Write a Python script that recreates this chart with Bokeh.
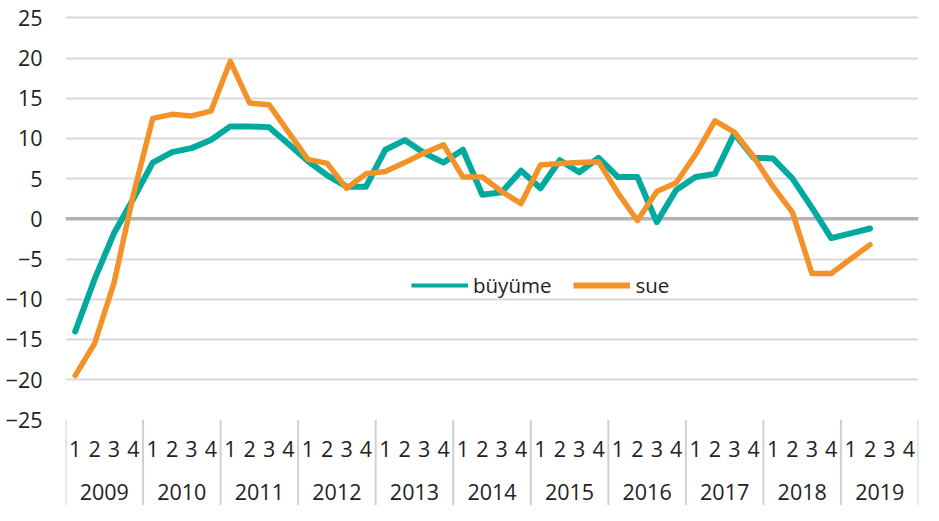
from bokeh.plotting import figure
from bokeh.models import (FactorRange, Range1d, FixedTicker, Span, Legend,
                          LegendItem, CategoricalAxis)
from bokeh.embed import file_html
from bokeh.resources import INLINE

# ---- data ----
years = ["2009", "2010", "2011", "2012", "2013", "2014",
         "2015", "2016", "2017", "2018", "2019"]
quarters = ["1", "2", "3", "4"]

buyume = [-14.0, -7.5, -1.8, 2.5, 7.0, 8.3, 8.8, 9.8, 11.5, 11.5, 11.4, 9.3,
          7.2, 5.4, 4.0, 4.0, 8.6, 9.8, 8.2, 7.0, 8.6, 3.0, 3.3, 6.0,
          3.8, 7.3, 5.8, 7.6, 5.2, 5.2, -0.4, 3.6, 5.2, 5.6, 10.6, 7.6,
          7.5, 5.0, 1.4, -2.4, -1.8, -1.2]

sue = [-19.5, -15.5, -8.0, 3.0, 12.5, 13.0, 12.8, 13.4, 19.6, 14.4, 14.2, 10.8,
       7.4, 6.9, 3.8, 5.6, 5.9, 7.0, 8.2, 9.2, 5.2, 5.2, 3.4, 1.9,
       6.7, 6.9, 7.0, 7.1, 3.2, -0.2, 3.4, 4.5, 8.0, 12.2, 10.8, 7.7,
       4.0, 0.8, -6.8, -6.8, -5.0, -3.2]

y_ticks = [25, 20, 15, 10, 5, 0, -5, -10, -15, -20, -25]

TEAL = "#00aa9e"
ORANGE = "#f4922a"
TEXT = "#222222"
FONT = "Open Sans"
FS = "21.5px"

factors = [(y, q) for y in years for q in quarters]
x_range = FactorRange(factors=factors, factor_padding=0, group_padding=0,
                      subgroup_padding=0, range_padding=0)

y_top = 27.16
y_bottom = -35.65
p = figure(width=923, height=505, x_range=x_range,
           y_range=Range1d(y_bottom, y_top),
           output_backend="svg", toolbar_location=None,
           min_border_left=65, min_border_right=5,
           min_border_top=0, min_border_bottom=0)
p.extra_x_ranges = {"years": FactorRange(factors=years, factor_padding=0,
                                          range_padding=0)}
p.outline_line_color = None
p.background_fill_color = "white"
p.border_fill_color = "white"

# grid
p.xgrid.visible = False
p.ygrid.ticker = FixedTicker(ticks=[t for t in y_ticks if t > min(y_ticks) and t != 0])
p.ygrid.grid_line_color = "#d9d9d9"
p.ygrid.grid_line_width = 2
zero = Span(location=0, dimension="width", line_color="#b3b3b3",
            line_width=3.5, level="underlay")
p.add_layout(zero)

# y axis
p.yaxis.ticker = FixedTicker(ticks=y_ticks)
p.yaxis.axis_line_color = None
p.yaxis.major_tick_line_color = None
p.yaxis.minor_tick_line_color = None
p.yaxis.major_label_text_font = FONT
p.yaxis.major_label_text_font_size = FS
p.yaxis.major_label_text_color = TEXT
p.yaxis.major_label_standoff = 17

# x axis: quarters (inside the frame, at the bottom of the value range)
p.xaxis.fixed_location = min(y_ticks)
p.xaxis.axis_line_color = None
p.xaxis.major_tick_line_color = None
p.xaxis.minor_tick_line_color = None
p.xaxis.separator_line_color = None
p.xaxis.major_label_text_font = FONT
p.xaxis.major_label_text_font_size = FS
p.xaxis.major_label_text_color = TEXT
p.xaxis.major_label_standoff = 15
p.xaxis.group_text_alpha = 0
p.xaxis.group_text_font_size = FS

# x axis: years
year_axis = CategoricalAxis(x_range_name="years", fixed_location=min(y_ticks),
                            axis_line_color=None, major_tick_line_color=None,
                            minor_tick_line_color=None,
                            separator_line_color=None,
                            major_label_text_font=FONT,
                            major_label_text_font_size=FS,
                            major_label_text_color=TEXT,
                            major_label_standoff=58)
p.add_layout(year_axis, "below")

# year separators
bounds = [4 * i for i in range(len(years) + 1)]
p.segment(x0=bounds, y0=[min(y_ticks)] * len(bounds), x1=bounds,
          y1=[y_bottom] * len(bounds), line_color="#d0d0d0", line_width=2)

# data lines
p.line(x=factors[:len(buyume)], y=buyume, line_color=TEAL, line_width=6,
       line_join="round", line_cap="round")
p.line(x=factors[:len(sue)], y=sue, line_color=ORANGE, line_width=5.5,
       line_join="round", line_cap="round")

# legend sample lines (no visible data in the plot)
nan = float("nan")
leg_b = p.line(x=[factors[0]], y=[nan], line_color=TEAL, line_width=4)
leg_s = p.line(x=[factors[0]], y=[nan], line_color=ORANGE, line_width=6)
legend = Legend(items=[LegendItem(label="büyüme", renderers=[leg_b]),
                       LegendItem(label="sue", renderers=[leg_s])],
                orientation="horizontal", location=(346, 206),
                glyph_width=57, glyph_height=20, label_standoff=5,
                spacing=22, padding=0, margin=0,
                border_line_color=None, background_fill_alpha=0,
                label_text_font=FONT, label_text_font_size="20.5px",
                label_text_color=TEXT)
p.add_layout(legend, "center")

open("out.html", "w").write(file_html(p, INLINE))
